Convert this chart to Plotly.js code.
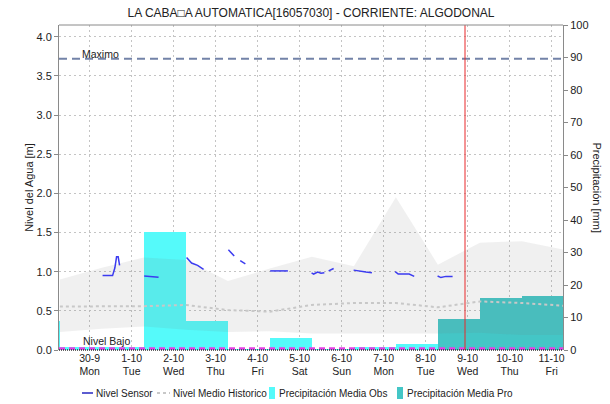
<!DOCTYPE html>
<html>
<head>
<meta charset="utf-8">
<script src="https://cdn.plot.ly/plotly-3.0.1.min.js"></script>
<style>html,body{margin:0;padding:0;background:#fff}#chart{width:610px;height:404px}</style>
</head>
<body>
<div id="chart"></div>
<script>
// ---- data ----
const chartTitle = 'LA CABA\u25A1A AUTOMATICA[16057030] - CORRIENTE: ALGODONAL';

// historical band & mean, one value per day at 07:00
const histTimes = ['2024-09-29 07:00','2024-09-30 07:00','2024-10-01 07:00','2024-10-02 07:00','2024-10-03 07:00','2024-10-04 07:00','2024-10-05 07:00','2024-10-06 07:00','2024-10-07 07:00','2024-10-08 07:00','2024-10-09 07:00','2024-10-10 07:00','2024-10-11 07:00'];
const histMax  = [0.90, 1.05, 1.18, 1.15, 0.88, 1.04, 1.19, 1.07, 1.95, 1.09, 1.37, 1.39, 1.28];
const histMin  = [0.23, 0.27, 0.30, 0.26, 0.23, 0.24, 0.21, 0.21, 0.21, 0.21, 0.22, 0.19, 0.19];
const histMean = [0.555, 0.555, 0.56, 0.575, 0.51, 0.49, 0.575, 0.60, 0.60, 0.545, 0.62, 0.60, 0.565];

// sensor level (null = gap)
const sensorTimes = [
 '2024-09-30 07:24','2024-09-30 13:07','2024-09-30 14:26','2024-09-30 15:24','2024-09-30 16:19','2024-09-30 17:07','2024-09-30 20:00',
 '2024-10-01 07:11','2024-10-01 11:00','2024-10-01 15:24','2024-10-01 20:00',
 '2024-10-02 07:24','2024-10-02 10:16','2024-10-02 13:42','2024-10-02 17:07','2024-10-02 20:00',
 '2024-10-03 07:18','2024-10-03 10:37','2024-10-03 12:20','2024-10-03 14:03','2024-10-03 16:59','2024-10-03 20:00',
 '2024-10-04 07:11','2024-10-04 17:18','2024-10-04 20:00',
 '2024-10-05 06:50','2024-10-05 08:00','2024-10-05 10:18','2024-10-05 12:12','2024-10-05 14:08','2024-10-05 15:20','2024-10-05 16:35','2024-10-05 19:27','2024-10-05 22:00',
 '2024-10-06 06:51','2024-10-06 11:01','2024-10-06 13:53','2024-10-06 17:18','2024-10-06 20:00',
 '2024-10-07 06:37','2024-10-07 08:20','2024-10-07 14:37','2024-10-07 17:29','2024-10-07 20:00',
 '2024-10-08 06:51','2024-10-08 08:44','2024-10-08 11:36','2024-10-08 15:25'];
const sensorLevel = [
 0.95, 0.95, 1.05, 1.19, 1.19, 1.08, null,
 0.945, 0.94, 0.93, null,
 1.18, 1.11, 1.08, 1.03, null,
 1.28, 1.20, null, 1.14, 1.10, null,
 1.01, 1.01, null,
 0.985, 0.97, 0.995, 0.98, 0.985, null, 1.01, 1.04, null,
 1.02, 1.01, 0.995, 0.985, null,
 1.00, 0.97, 0.97, 0.94, null,
 0.945, 0.925, 0.94, 0.94];

// daily precipitation (07:00 to 07:00)
const obsStarts = ['2024-09-28 07:00','2024-09-29 07:00','2024-09-30 07:00','2024-10-01 07:00','2024-10-02 07:00','2024-10-03 07:00','2024-10-04 07:00','2024-10-05 07:00','2024-10-06 07:00','2024-10-07 07:00'];
const obsPrecip = [8.9, 1.0, 1.0, 36.4, 9.0, 0.2, 3.8, 0.2, 0.8, 1.8];
const proStarts = ['2024-10-08 07:00','2024-10-09 07:00','2024-10-10 07:00'];
const proPrecip = [9.4, 15.9, 16.7];

// thresholds
const nivelMaximo = 3.72;
const nivelBajo = 0.02;
const nowTime = '2024-10-08 22:30';

// axis ticks
const tickDates = ['2024-09-30','2024-10-01','2024-10-02','2024-10-03','2024-10-04','2024-10-05','2024-10-06','2024-10-07','2024-10-08','2024-10-09','2024-10-10','2024-10-11'];
const tickDays  = ['30-9','1-10','2-10','3-10','4-10','5-10','6-10','7-10','8-10','9-10','10-10','11-10'];
const tickWeekdays = ['Mon','Tue','Wed','Thu','Fri','Sat','Sun','Mon','Tue','Wed','Thu','Fri'];

// legend labels
const legendLabels = ['Nivel Sensor','Nivel Medio Historico','Precipitación Media Obs','Precipitación Media Pro'];

// ---- chart ----
const FONT = 'Liberation Sans, Arial, sans-serif';
const DAY = 86400000;
const C_SENSOR = '#3b3bf0', C_MEAN = '#c8c8c8', C_OBS = '#55fafa', C_PRO = '#44c6c6';

const traces = [
  {type:'bar', x: obsStarts, y: obsPrecip, yaxis:'y', name: legendLabels[2],
   width: DAY, offset: 0, marker:{color:C_OBS, line:{width:0}}},
  {type:'bar', x: proStarts, y: proPrecip, yaxis:'y', name: legendLabels[3],
   width: DAY, offset: 0, marker:{color:C_PRO, line:{width:0}}},
  {type:'scatter', mode:'lines', x: histTimes, y: histMin, yaxis:'y2',
   line:{width:0, color:'rgba(0,0,0,0)'}, hoverinfo:'skip'},
  {type:'scatter', mode:'lines', x: histTimes, y: histMax, yaxis:'y2',
   fill:'tonexty', fillcolor:'rgba(120,120,120,0.11)', line:{width:0, color:'rgba(0,0,0,0)'}, hoverinfo:'skip'},
  {type:'scatter', mode:'lines', x: histTimes, y: histMean, yaxis:'y2', name: legendLabels[1],
   line:{color:C_MEAN, width:2, dash:'3px,3px'}},
  {type:'scatter', mode:'lines', x: sensorTimes, y: sensorLevel, yaxis:'y2', name: legendLabels[0],
   connectgaps:false, line:{color:C_SENSOR, width:1.5}}
];

// legend drawn below the plot (paper coords; plot area is 504 x 325 px starting at x=59, bottom y=350)
const PX = px => (px - 59) / 504;
const PY = py => (350 - py) / 325;
const LEG_Y = 393;
const legendSymbols = [
  {type:'line', xref:'paper', yref:'paper', x0:PX(82), x1:PX(93), y0:PY(LEG_Y), y1:PY(LEG_Y), line:{color:'#2626c0', width:1.5}},
  {type:'line', xref:'paper', yref:'paper', x0:PX(157), x1:PX(170), y0:PY(LEG_Y), y1:PY(LEG_Y), line:{color:C_MEAN, width:2, dash:'3px,3px'}},
  {type:'rect', xref:'paper', yref:'paper', x0:PX(269), x1:PX(275), y0:PY(399), y1:PY(387), line:{width:0}, fillcolor:C_OBS},
  {type:'rect', xref:'paper', yref:'paper', x0:PX(397), x1:PX(403), y0:PY(399), y1:PY(387), line:{width:0}, fillcolor:C_PRO}
];
const legendTextX = [94, 171, 277, 405];
const legendTexts = legendLabels.map((t,i)=>({
  text:t, xref:'paper', yref:'paper', x:PX(legendTextX[i]), y:PY(LEG_Y), xanchor:'left', yanchor:'middle',
  showarrow:false, font:{family: FONT, size:10, color:'#222'}
}));

const layout = {
  width: 610, height: 404,
  margin: {l:59, r:47, t:25, b:54, autoexpand:false},
  paper_bgcolor:'#fff', plot_bgcolor:'#fff',
  font: {family: FONT, size: 11, color:'#222'},
  title: {text: chartTitle, font:{family: FONT, size:12, color:'#222'}, x:0.5, xref:'paper', xanchor:'center', y: 1-13/404, yanchor:'middle'},
  showlegend: false,
  barmode:'overlay', bargap:0,
  xaxis: {type:'date', range:['2024-09-29 06:30','2024-10-11 06:30'],
          tickmode:'array', tickvals: tickDates,
          ticktext: tickDays.map((d,i)=> d + '<br>' + tickWeekdays[i]),
          tickfont:{family: FONT, size:10.5, color:'#222'},
          showgrid:true, gridcolor:'#c4c4c4', griddash:'2px,3px', gridwidth:1,
          showline:false, zeroline:false, ticks:'', ticklen:0, automargin:false},
  yaxis: {side:'right', range:[0,100], dtick:10, tick0:0, automargin:false,
          showgrid:false, zeroline:false, showline:true, linecolor:'#8a8a8a', linewidth:1,
          ticks:'outside', ticklen:4, tickcolor:'#8a8a8a', tickfont:{family: FONT, size:11, color:'#222'}},
  yaxis2: {overlaying:'y', side:'left', range:[0,4.15], dtick:0.5, tick0:0, tickformat:'.1f', automargin:false,
           showgrid:true, gridcolor:'#c4c4c4', griddash:'2px,3px', gridwidth:1,
           zeroline:false, showline:true, linecolor:'#8a8a8a', linewidth:1,
           ticks:'outside', ticklen:4, tickcolor:'#8a8a8a', tickfont:{family: FONT, size:11, color:'#222'},
           title:{text:'Nivel del Agua [m]', font:{family: FONT, size:11, color:'#222'}, standoff: 0}},
  shapes: [
    {type:'line', xref:'paper', x0:0, x1:1, yref:'y2', y0:nivelMaximo, y1:nivelMaximo,
     line:{color:'#7383a8', width:2, dash:'8px,5px'}, layer:'above'},
    {type:'line', xref:'paper', x0:0, x1:1, yref:'y2', y0:nivelBajo, y1:nivelBajo,
     line:{color:'#e63ee6', width:2.5, dash:'6px,4px'}, layer:'above'},
    {type:'line', xref:'x', x0:nowTime, x1:nowTime, yref:'paper', y0:0, y1:1,
     line:{color:'#e8282a', width:1}, layer:'above'},
    {type:'line', xref:'paper', x0:0, x1:1, yref:'paper', y0:1, y1:1,
     line:{color:'#8a8a8a', width:1}, layer:'above'},
    {type:'line', xref:'paper', x0:0, x1:1, yref:'paper', y0:0, y1:0,
     line:{color:'#333', width:1.5, dash:'1px,1px'}, layer:'above'}
  ].concat(legendSymbols),
  annotations: [
    {text:'Maximo', xref:'paper', x:21/504, xanchor:'left', yref:'y2', y:nivelMaximo, yanchor:'bottom',
     showarrow:false, font:{family: FONT, size:10.5, color:'#222'}, yshift:-3},
    {text:'Nivel Bajo', xref:'paper', x:22/504, xanchor:'left', yref:'y2', y:nivelBajo, yanchor:'bottom',
     showarrow:false, font:{family: FONT, size:10.5, color:'#222'}, yshift:-1},
    {text:'Precipitación [mm]', xref:'paper', x:1, xshift:34, xanchor:'center', yref:'paper', y:0.5, yanchor:'middle',
     textangle:90, showarrow:false, font:{family: FONT, size:11, color:'#222'}}
  ].concat(legendTexts)
};

Plotly.newPlot('chart', traces, layout, {displayModeBar:false, staticPlot:true});
</script>
</body>
</html>
